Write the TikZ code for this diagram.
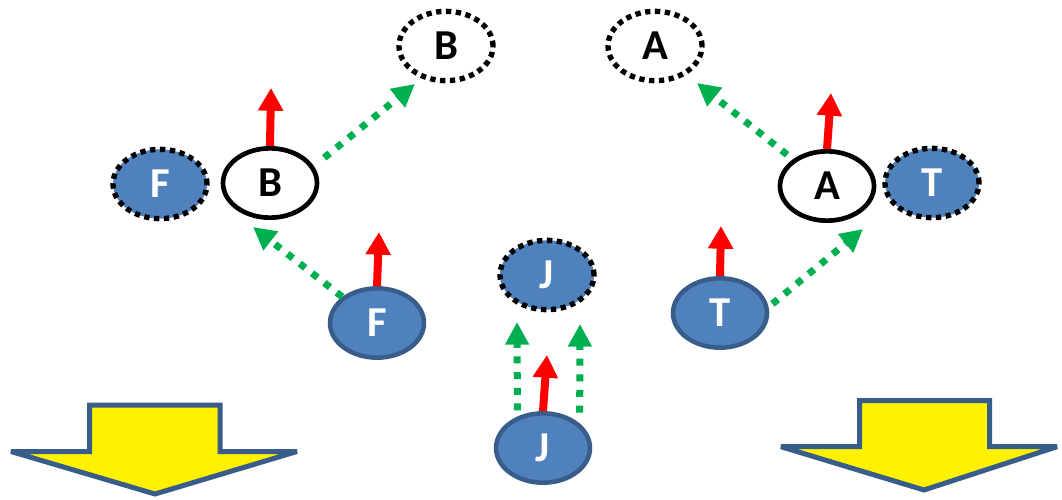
\documentclass[tikz,border=0pt]{standalone}
\usepackage{fontspec}
\setmainfont{Carlito}
\usetikzlibrary{arrows.meta,shapes.geometric}
\definecolor{nblue}{HTML}{4F81BD}
\definecolor{bblue}{HTML}{385D8A}
\definecolor{ngreen}{HTML}{00B050}
\begin{document}
\begin{tikzpicture}[x=0.75pt,y=-0.75pt,
 base/.style={ellipse,inner sep=0pt,minimum width=70.5pt,minimum height=52pt,font=\fontsize{32}{36}\selectfont\bfseries},
 solidblue/.style={base,fill=nblue,draw=bblue,line width=3.4pt,text=white},
 dotblue/.style={base,fill=nblue,draw=black,line width=4pt,dash pattern=on 4pt off 3.4pt,text=white},
 dotwhite/.style={base,draw=black,line width=4pt,dash pattern=on 4pt off 3.4pt},
 solidwhite/.style={base,draw=black,line width=3.5pt},
 redarrow/.style={draw=red,line width=6pt,-{Triangle[width=18pt,length=17pt]}},
 greenarrow/.style={draw=ngreen,line width=5.25pt,dash pattern=on 5.25pt off 6.5pt,-{Triangle[width=17pt,length=17pt]}},
 bigarrow/.style={fill=yellow,draw=bblue,line width=3.75pt,line join=miter,miter limit=2}
]
\useasboundingbox (0,0) rectangle (1062,499);

% yellow arrows
\draw[bigarrow] (89.5,405) -- (220,405) -- (220,451.5) -- (297,451.5) -- (155,494) -- (11,451.5) -- (89.5,451.5) -- cycle;
\draw[bigarrow] (859.5,400.5) -- (989.5,400.5) -- (989.5,446.7) -- (1057,446.7) -- (924,490) -- (781,446.7) -- (859.5,446.7) -- cycle;

% nodes
\node[dotwhite] (Bd) at (446,46) {B};
\node[dotwhite] (Ad) at (655,46) {A};
\node[solidwhite] (Bs) at (270,183) {B};
\node[dotblue] (Fd) at (160,184) {F};
\node[solidwhite] (As) at (827,186) {A};
\node[dotblue] (Td) at (932,183) {T};
\node[solidblue] (Ts) at (720,313) {T};
\node[solidblue] (Fs) at (377,323) {F};
\node[dotblue] (Jd) at (547,275) {J};
\node[solidblue] (Js) at (543,448) {J};

% arrow tip coordinates
\coordinate (rB) at (271,88);
\coordinate (rF) at (379,232);
\coordinate (rA) at (831,93);
\coordinate (rT) at (721,226);
\coordinate (rJ) at (547,355);
\coordinate (gB) at (415,84);
\coordinate (gF) at (253,227);
\coordinate (gA) at (697,83);
\coordinate (gT) at (863,229);
\coordinate (gJa) at (517,322);
\coordinate (gJb) at (580,324);

% red arrows
\draw[redarrow] (Bs.north) -- (rB);
\draw[redarrow] (Fs.north) -- (rF);
\draw[redarrow] (As.north) -- (rA);
\draw[redarrow] (Ts.north) -- (rT);
\draw[redarrow] (Js.north) -- (rJ);

% green dotted arrows
\draw[greenarrow,shorten <=10pt] (Bs.21) -- (gB);
\draw[greenarrow] (Fs.143) -- (gF);
\draw[greenarrow,shorten <=5.5pt] (As.142) -- (gA);
\draw[greenarrow,shorten <=3.7pt] (Ts.7) -- (gT);
\draw[greenarrow,shorten <=4.5pt] (Js.129) -- (gJa);
\draw[greenarrow,shorten <=8pt] (Js.34) -- (gJb);
\end{tikzpicture}
\end{document}
